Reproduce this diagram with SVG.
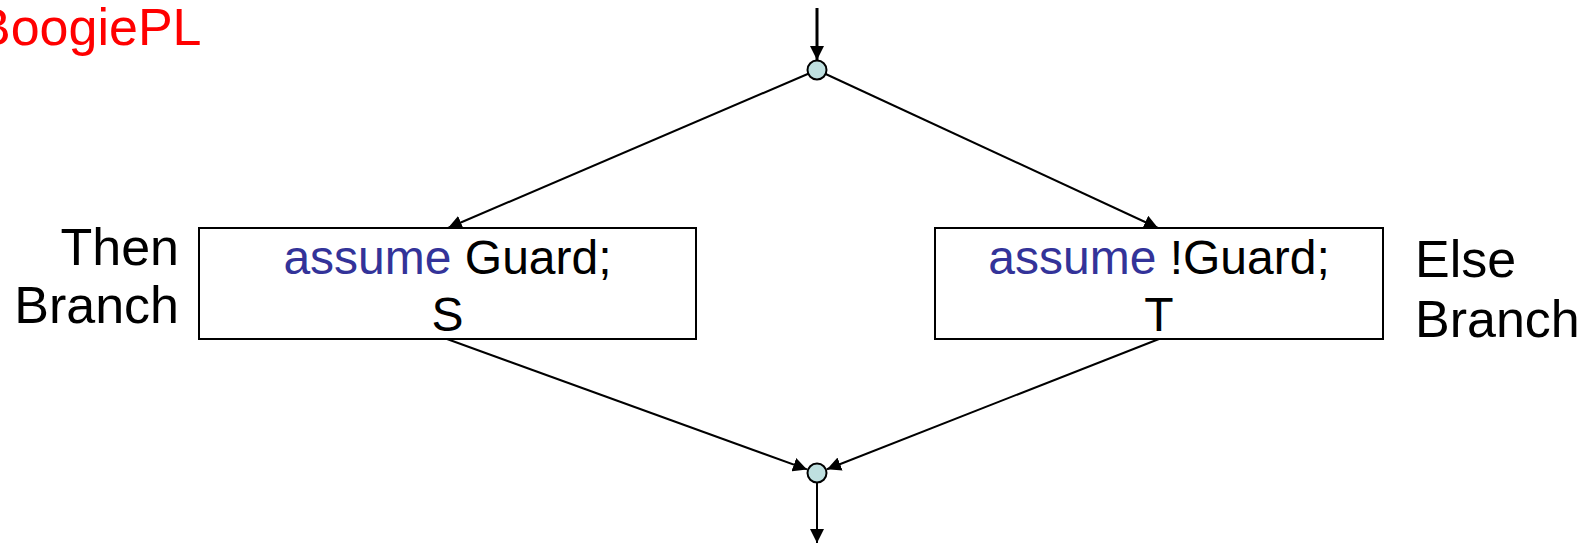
<svg xmlns="http://www.w3.org/2000/svg" width="1596" height="546" viewBox="0 0 1596 546">
<style>
.t{font-family:"Liberation Sans",Arial,sans-serif;fill:#000}
.kw{fill:#333399}
.box{fill:#fff;stroke:#000;stroke-width:2}
.dot{fill:#BFE0E0;stroke:#000;stroke-width:2}
.ln{stroke:#000;stroke-width:2;fill:none}
.lbl{font-size:52px}
</style>
<defs>
<marker id="ah" viewBox="0 0 14 14" markerWidth="14" markerHeight="14" refX="14" refY="7" orient="auto" markerUnits="userSpaceOnUse">
<path d="M0,0 L14,7 L0,14 z" fill="#000"/>
</marker>
</defs>
<rect width="1596" height="546" fill="#fff"/>
<text class="t" x="-24" y="45" font-size="52" style="fill:#FF0000">BoogiePL</text>
<g id="connectors">
<line class="ln" x1="817" y1="8" x2="817" y2="60" style="stroke-width:3" marker-end="url(#ah)"/>
<line class="ln" x1="817" y1="70" x2="448" y2="228" marker-end="url(#ah)"/>
<line class="ln" x1="817" y1="70" x2="1158" y2="228" marker-end="url(#ah)"/>
<line class="ln" x1="447" y1="339" x2="807" y2="469.4" marker-end="url(#ah)"/>
<line class="ln" x1="1159" y1="339" x2="827" y2="469.2" marker-end="url(#ah)"/>
<line class="ln" x1="817" y1="483" x2="817" y2="543" marker-end="url(#ah)"/>
</g>
<g id="split"><circle class="dot" cx="817" cy="70" r="9.5"/></g>
<g id="join"><circle class="dot" cx="817" cy="473" r="9.5"/></g>
<g id="then-box">
<rect class="box" x="199" y="228" width="497" height="111"/>
<text class="t" x="447.5" y="274" font-size="48" text-anchor="middle"><tspan class="kw">assume</tspan> Guard;</text>
<text class="t" x="447.5" y="331" font-size="48" text-anchor="middle">S</text>
</g>
<g id="else-box">
<rect class="box" x="935" y="228" width="448" height="111"/>
<text class="t" x="1159" y="274" font-size="48" text-anchor="middle"><tspan class="kw">assume</tspan> !Guard;</text>
<text class="t" x="1159" y="331" font-size="48" text-anchor="middle">T</text>
</g>
<g id="then-label">
<text class="t lbl" x="179" y="265" text-anchor="end">Then</text>
<text class="t lbl" x="179" y="323" text-anchor="end">Branch</text>
</g>
<g id="else-label">
<text class="t lbl" x="1415" y="277" >Else</text>
<text class="t lbl" x="1415" y="337">Branch</text>
</g>
</svg>
